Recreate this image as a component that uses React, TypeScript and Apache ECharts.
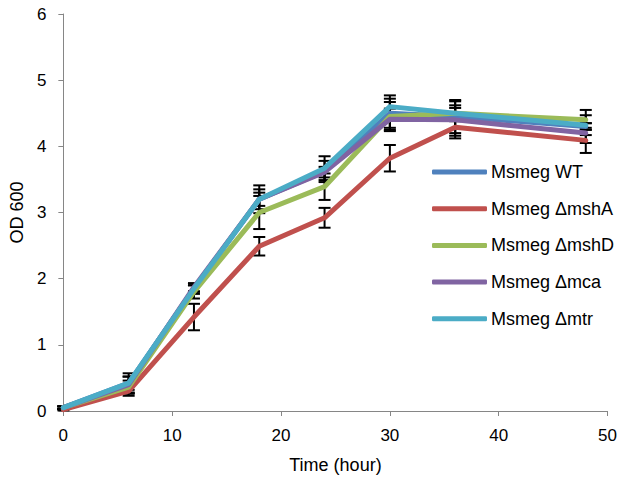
import React, { useEffect, useRef } from "react";
import * as echarts from "echarts";

const times = [0, 6, 12, 18, 24, 30, 36, 48];
const seriesNames = ["Msmeg WT", "Msmeg ΔmshA", "Msmeg ΔmshD", "Msmeg Δmca", "Msmeg Δmtr"];
const seriesColors = ["#4F81BD", "#C0504D", "#9BBB59", "#8064A2", "#4BACC6"];
const wt = [0.05, 0.42, 1.85, 3.2, 3.62, 4.5, 4.45, 4.3];
const mshA = [0.02, 0.3, 1.42, 2.49, 2.92, 3.82, 4.29, 4.09];
const mshD = [0.05, 0.36, 1.8, 3.0, 3.39, 4.45, 4.5, 4.4];
const mca = [0.05, 0.4, 1.87, 3.2, 3.61, 4.41, 4.4, 4.2];
const mtr = [0.05, 0.42, 1.85, 3.2, 3.67, 4.6, 4.5, 4.32];
const wtErr = [0.02, 0.15, 0.08, 0.21, 0.16, 0.22, 0.25, 0.05];
const mshAErr = [0.01, 0.07, 0.2, 0.14, 0.15, 0.2, 0.13, 0.19];
const mshDErr = [0.02, 0.1, 0.1, 0.25, 0.2, 0.22, 0.12, 0.15];
const mcaErr = [0.02, 0.12, 0.06, 0.15, 0.08, 0.16, 0.28, 0.15];
const mtrErr = [0.02, 0.1, 0.05, 0.1, 0.18, 0.17, 0.08, 0.15];
const xTicks = [0, 10, 20, 30, 40, 50];
const yTicks = [0, 1, 2, 3, 4, 5, 6];

const allValues = [wt, mshA, mshD, mca, mtr];
const allErrors = [wtErr, mshAErr, mshDErr, mcaErr, mtrErr];

export default function App() {
  const ref = useRef<HTMLDivElement>(null);
  useEffect(() => {
    if (!ref.current) return;
    const chart = echarts.init(ref.current, null, { renderer: "svg" });
    const font = "Liberation Sans, Arial, sans-serif";

    const errData: number[][] = [];
    allValues.forEach((vals, si) => {
      vals.forEach((v, i) => {
        errData.push([times[i], v - allErrors[si][i], v + allErrors[si][i]]);
      });
    });

    const lineSeries = allValues.map((vals, si) => ({
      name: seriesNames[si],
      type: "line",
      color: seriesColors[si],
      data: vals.map((v, i) => [times[i], v]),
      showSymbol: false,
      symbol: "none",
      z: 3 + si,
      lineStyle: { width: 5, color: seriesColors[si], cap: "round", join: "round" },
    }));

    chart.setOption({
      animation: false,
      backgroundColor: "#ffffff",
      textStyle: { fontFamily: font },
      grid: { left: 61, right: 10, top: 14, bottom: 70 },
      legend: {
        orient: "vertical",
        left: 432,
        top: 161,
        padding: 0,
        itemWidth: 55,
        itemHeight: 5,
        itemGap: 14.7,
        icon: "roundRect",
        data: seriesNames,
        textStyle: { fontSize: 18, color: "#000", lineHeight: 22, fontFamily: font, padding: [0, 0, 0, -1] },
      },
      xAxis: {
        type: "value",
        min: xTicks[0],
        max: xTicks[xTicks.length - 1],
        interval: 10,
        name: "Time (hour)",
        nameLocation: "middle",
        nameGap: 45,
        nameTextStyle: { fontSize: 18, color: "#000", fontFamily: font },
        axisLine: { show: true, lineStyle: { color: "#868686", width: 1 } },
        axisTick: { show: true, length: 5, lineStyle: { color: "#868686" } },
        axisLabel: { fontSize: 17, color: "#000", margin: 16, fontFamily: font },
        splitLine: { show: false },
      },
      yAxis: {
        type: "value",
        min: yTicks[0],
        max: yTicks[yTicks.length - 1],
        interval: 1,
        name: "OD 600",
        nameLocation: "middle",
        nameGap: 35,
        nameRotate: 90,
        nameTextStyle: { fontSize: 18, color: "#000", fontFamily: font },
        axisLine: { show: true, lineStyle: { color: "#868686", width: 1 } },
        axisTick: { show: true, length: 5, lineStyle: { color: "#868686" } },
        axisLabel: { fontSize: 17, color: "#000", margin: 17, fontFamily: font },
        splitLine: { show: false },
      },
      series: [
        {
          type: "custom",
          z: 2,
          silent: true,
          encode: { x: 0, y: [1, 2] },
          data: errData,
          renderItem: (params: any, api: any) => {
            const x = api.value(0);
            const lo = api.value(1);
            const hi = api.value(2);
            const p1 = api.coord([x, lo]);
            const p2 = api.coord([x, hi]);
            const w = 6;
            const st = { stroke: "#000", lineWidth: 2 };
            return {
              type: "group",
              children: [
                { type: "line", shape: { x1: p1[0], y1: p1[1], x2: p2[0], y2: p2[1] }, style: st },
                { type: "line", shape: { x1: p1[0] - w, y1: p1[1], x2: p1[0] + w, y2: p1[1] }, style: st },
                { type: "line", shape: { x1: p2[0] - w, y1: p2[1], x2: p2[0] + w, y2: p2[1] }, style: st },
              ],
            };
          },
        },
        ...lineSeries,
      ],
    });
    return () => chart.dispose();
  }, []);
  return (
    <div
      ref={ref}
      style={{ position: "fixed", left: 0, top: 0, width: 620, height: 481, background: "#fff" }}
    />
  );
}
